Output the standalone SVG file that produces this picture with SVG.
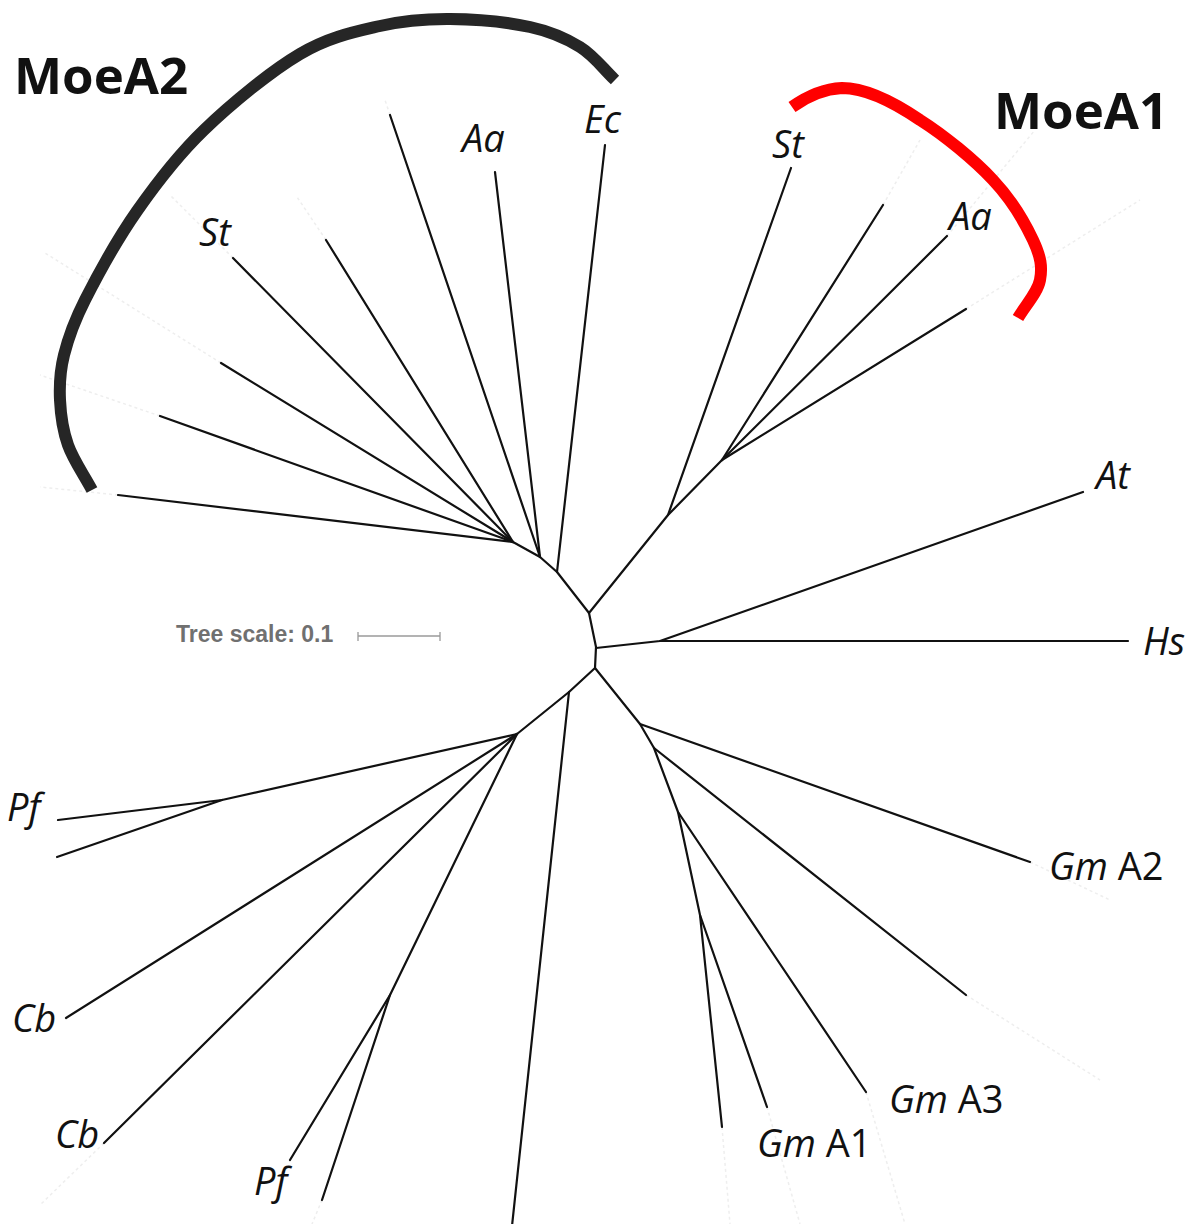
<svg xmlns="http://www.w3.org/2000/svg" width="1196" height="1224" viewBox="0 0 1196 1224">
  <style>
    .br { fill: none; stroke: #111; stroke-width: 2.2; stroke-linecap: round; stroke-linejoin: round; }
    .guide { fill: none; stroke: #eeeeee; stroke-width: 1.5; stroke-dasharray: 3 3; }
    .lbl { font-family: "Open Sans", "Liberation Sans", sans-serif; font-size: 38px; fill: #111; }
    .it { font-style: italic; }
    .clade { font-family: "Open Sans", "Liberation Sans", sans-serif; font-size: 51px; font-weight: bold; fill: #111; }
    .arc { fill: none; stroke-width: 12; stroke-linecap: butt; }
  </style>
  <rect width="1196" height="1224" fill="#fff"/>

  <!-- faint leaf-to-label guides -->
  <g id="guides" class="guide">
    <path d="M118 495 L40 487"/>
    <path d="M160 416 L40 375"/>
    <path d="M221 363 L45 253"/>
    <path d="M233 258 L170 195"/>
    <path d="M326 240 L297 197"/>
    <path d="M390 115 L385 100"/>
    <path d="M883 205 L920 140"/>
    <path d="M947 236 L1035 130"/>
    <path d="M966 309 L1140 200"/>
    <path d="M1030 862 L1110 900"/>
    <path d="M966 995 L1100 1080"/>
    <path d="M866 1092 L905 1224"/>
    <path d="M767 1107 L800 1224"/>
    <path d="M722 1127 L730 1224"/>
    <path d="M104 1143 L40 1205"/>
    <path d="M322 1200 L312 1224"/>
  </g>

  <!-- tree branches -->
  <g id="connectors" class="br">
    <!-- backbone -->
    <path d="M513 542 L540 557 L557 572 L589 613 L596 647 L595 668 L569 692 L517 734"/>
    <!-- MoeA2 clade -->
    <path d="M513 542 L118 495"/>
    <path d="M513 542 L160 416"/>
    <path d="M513 542 L221 363"/>
    <path d="M513 542 L233 258"/>
    <path d="M513 542 L326 240"/>
    <path d="M540 557 L390 115"/>
    <path d="M540 557 L495 172"/>
    <path d="M557 572 L605 145"/>
    <!-- MoeA1 clade -->
    <path d="M589 613 L668 515 L791 168"/>
    <path d="M668 515 L722 460"/>
    <path d="M722 460 L883 205"/>
    <path d="M722 460 L947 236"/>
    <path d="M722 460 L966 309"/>
    <!-- At / Hs -->
    <path d="M596 648 L660 641 L1083 492"/>
    <path d="M660 641 L1128 641"/>
    <!-- Gm clade -->
    <path d="M595 668 L640 724 L1030 862"/>
    <path d="M640 724 L654 748 L966 995"/>
    <path d="M654 748 L678 812 L866 1092"/>
    <path d="M678 812 L700 915 L767 1107"/>
    <path d="M700 915 L722 1127"/>
    <!-- long basal branch -->
    <path d="M569 692 L512 1226"/>
    <!-- Pf / Cb clade -->
    <path d="M517 734 L222 800 L58 820"/>
    <path d="M222 800 L57 857"/>
    <path d="M517 734 L66 1018"/>
    <path d="M517 734 L104 1143"/>
    <path d="M517 734 L390 995 L290 1160"/>
    <path d="M390 995 L322 1200"/>
  </g>

  <!-- clade brackets -->
  <g id="moea2">
    <path class="arc" stroke="#262626" d="M92 490 C84 475 73.3 460 68 445 C62.7 430 60.7 415 60 400 C59.3 385 59.8 371.7 64 355 C68.2 338.3 72.8 324 85 300 C97.2 276 117.2 239.3 137 211 C156.8 182.7 176.8 156.2 204 130 C231.2 103.8 270.7 71.3 300 54 C329.3 36.7 355 31.8 380 26 C405 20.2 425 18.8 450 19 C475 19.2 508.3 22.3 530 27 C551.7 31.7 565.8 38.2 580 47 C594.2 55.8 603.3 69 615 80"/>
    <text class="clade" x="14" y="94">MoeA2</text>
  </g>
  <g id="moea1">
    <path class="arc" stroke="#ff0000" d="M792 107 C806 97 822 89 842 88 C866 88 895 103 920 120 C944.3 135.3 974.2 160 993 180 C1011.8 200 1025.2 223.3 1033 240 C1040.8 256.7 1042.5 267 1040 280 C1037.5 293 1025.3 305.3 1018 318"/>
    <text class="clade" x="994" y="129">MoeA1</text>
  </g>

  <!-- leaf labels -->
  <g id="leaf-st-a2"><text class="lbl it" x="199" y="246">St</text></g>
  <g id="leaf-aa-a2"><text class="lbl it" x="462" y="152">Aa</text></g>
  <g id="leaf-ec"><text class="lbl it" x="584" y="133">Ec</text></g>
  <g id="leaf-st-a1"><text class="lbl it" x="772" y="158">St</text></g>
  <g id="leaf-aa-a1"><text class="lbl it" x="949" y="230">Aa</text></g>
  <g id="leaf-at"><text class="lbl it" x="1096" y="489">At</text></g>
  <g id="leaf-hs"><text class="lbl it" x="1143" y="655">Hs</text></g>
  <g id="leaf-gm-a2"><text class="lbl" x="1049" y="880"><tspan class="it">Gm</tspan> A2</text></g>
  <g id="leaf-gm-a3"><text class="lbl" x="889" y="1113"><tspan class="it">Gm</tspan> A3</text></g>
  <g id="leaf-gm-a1"><text class="lbl" x="757" y="1157"><tspan class="it">Gm</tspan> A1</text></g>
  <g id="leaf-pf-1"><text class="lbl it" x="7" y="821">Pf</text></g>
  <g id="leaf-cb-1"><text class="lbl it" x="12" y="1032">Cb</text></g>
  <g id="leaf-cb-2"><text class="lbl it" x="55" y="1148">Cb</text></g>
  <g id="leaf-pf-2"><text class="lbl it" x="254" y="1195">Pf</text></g>

  <!-- scale bar -->
  <g id="tree-scale">
    <text x="176" y="642" font-family="'Liberation Sans', Arial, sans-serif" font-size="23" font-weight="bold" fill="#707070">Tree scale: 0.1</text>
    <path d="M358 636 L440 636 M358 632 L358 641 M440 632 L440 641" fill="none" stroke="#9a9a9a" stroke-width="1.3"/>
  </g>
</svg>
